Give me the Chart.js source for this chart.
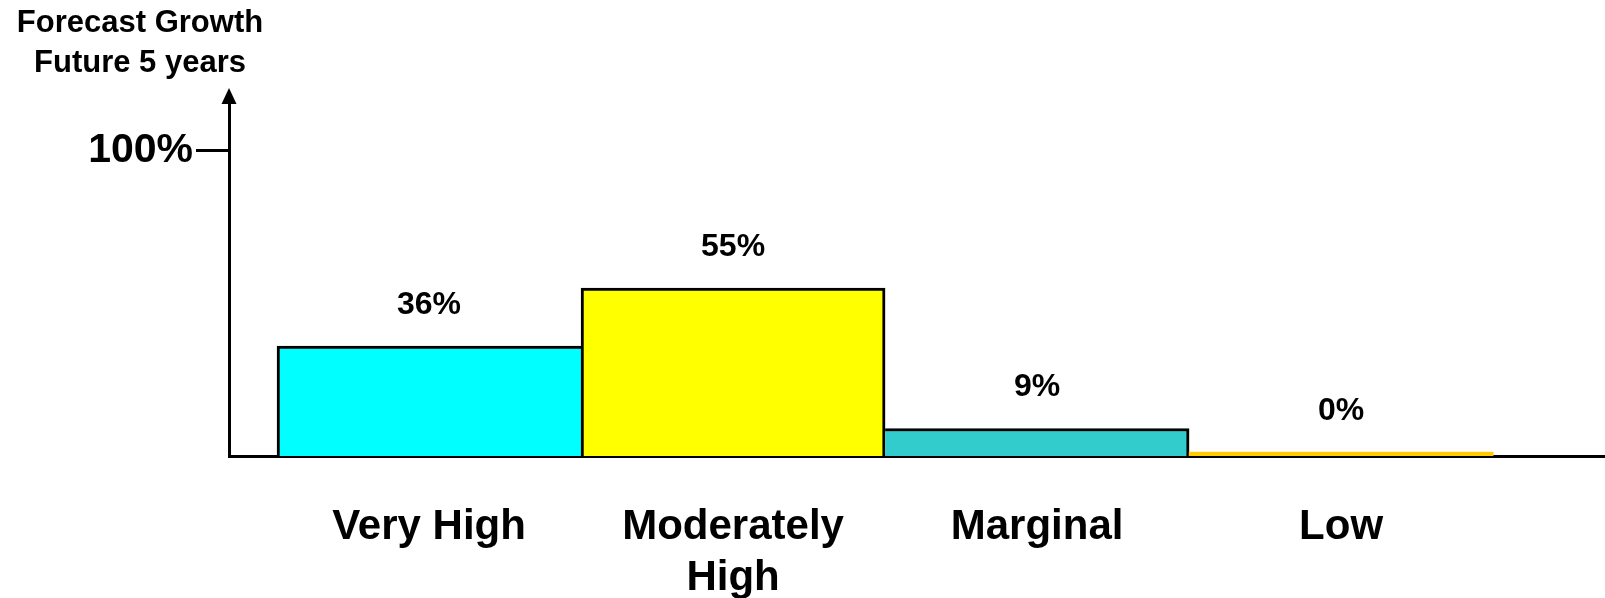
<!DOCTYPE html>
<html>
<head>
<meta charset="utf-8">
<title>Forecast Growth</title>
<script src="https://cdn.jsdelivr.net/npm/chart.js@4.4.1/dist/chart.umd.min.js"></script>
<style>
  html, body { margin: 0; padding: 0; background: #ffffff; }
  #wrap { width: 1605px; height: 598px; position: relative; }
</style>
</head>
<body>
<div id="wrap"><canvas id="growth"></canvas></div>
<script>
// Share of respondents by forecast growth over the next five years
const categories = ['Very High', 'Moderately High', 'Marginal', 'Low'];
const growthShare = [36, 55, 9, 0];
const tickLabels = ['Very High', ['Moderately', 'High'], 'Marginal', 'Low'];
const yTicks = [100];
const titleLines = ['Forecast Growth', 'Future 5 years'];

// Bar styling
const barFill = ['#00FFFF', '#FFFF00', '#33CCCC', '#FFCC00'];
const barEdges = [
  { top: 3, left: 3, right: 0, bottom: 0 },
  { top: 3, left: 3, right: 3, bottom: 0 },
  { top: 3, left: 0, right: 3, bottom: 0 },
  { top: 0, left: 0, right: 0, bottom: 0 }
];
const FONT = "'Liberation Sans', Arial, Helvetica, sans-serif";

// Arrowhead on top of the vertical axis
const axisArrow = {
  id: 'axisArrow',
  afterDraw(chart) {
    const { ctx, chartArea } = chart;
    const x = chart.scales.y.right;
    ctx.save();
    ctx.fillStyle = '#000';
    ctx.beginPath();
    ctx.moveTo(x, chartArea.top - 15);
    ctx.lineTo(x - 7.5, chartArea.top + 1);
    ctx.lineTo(x + 7.5, chartArea.top + 1);
    ctx.closePath();
    ctx.fill();
    ctx.restore();
  }
};

// Percentage labels above each bar
const valueLabels = {
  id: 'valueLabels',
  afterDatasetsDraw(chart) {
    const { ctx } = chart;
    const meta = chart.getDatasetMeta(0);
    ctx.save();
    ctx.fillStyle = '#000';
    ctx.font = 'bold 32px ' + FONT;
    ctx.textAlign = 'center';
    ctx.textBaseline = 'middle';
    meta.data.forEach((bar, i) => {
      ctx.fillText(growthShare[i] + '%', bar.x, bar.y - 41);
    });
    ctx.restore();
  }
};

// Two-line axis caption in the top-left corner
const cornerTitle = {
  id: 'cornerTitle',
  afterDraw(chart) {
    const { ctx } = chart;
    ctx.save();
    ctx.fillStyle = '#000';
    ctx.font = 'bold 31px ' + FONT;
    ctx.textAlign = 'center';
    ctx.textBaseline = 'middle';
    ctx.fillText(titleLines[0], 140, 23);
    ctx.fillText(titleLines[1], 140, 63);
    ctx.restore();
  }
};

new Chart(document.getElementById('growth'), {
  type: 'bar',
  data: {
    datasets: [{
      data: categories.map((c, i) => ({ x: i, y: growthShare[i] })),
      backgroundColor: barFill,
      borderColor: '#000000',
      borderWidth: (ctx) => barEdges[ctx.dataIndex],
      borderSkipped: false,
      minBarLength: 4,
      barPercentage: 1,
      categoryPercentage: 1
    }]
  },
  options: {
    responsive: true,
    maintainAspectRatio: false,
    animation: false,
    layout: { padding: { top: 103, right: 0, bottom: 0, left: 0 } },
    plugins: {
      legend: { display: false },
      tooltip: { enabled: false },
      title: { display: false }
    },
    scales: {
      x: {
        type: 'linear',
        offset: false,
        min: -0.658,
        max: 3.868,
        grid: { display: false, offset: false },
        border: { display: true, color: '#000000', width: 3 },
        afterBuildTicks: (axis) => { axis.ticks = categories.map((c, i) => ({ value: i })); },
        afterFit: (axis) => { axis.height = 142; },
        ticks: {
          autoSkip: false,
          maxRotation: 0,
          padding: 38,
          color: '#000000',
          font: { family: FONT, size: 42, weight: 'bold', lineHeight: 1.22 },
          callback: (v) => tickLabels[v]
        }
      },
      y: {
        min: 0,
        max: 115.7,
        grid: {
          display: true,
          drawOnChartArea: false,
          drawTicks: true,
          tickLength: 33,
          color: '#000000',
          lineWidth: 3
        },
        border: { display: true, color: '#000000', width: 3 },
        afterBuildTicks: (axis) => { axis.ticks = yTicks.map(v => ({ value: v })); },
        afterFit: (axis) => { axis.width = 229; },
        ticks: {
          padding: 3,
          color: '#000000',
          font: { family: FONT, size: 41, weight: 'bold' },
          callback: (v) => v + '%'
        }
      }
    }
  },
  plugins: [axisArrow, valueLabels, cornerTitle]
});
</script>
</body>
</html>
